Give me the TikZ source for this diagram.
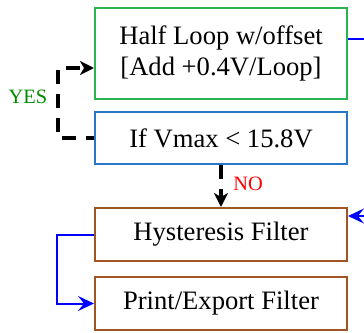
\documentclass[tikz,border=0pt]{standalone}
\usepackage{fontspec}
\setmainfont{Liberation Serif}
\usepackage{tikz}
\usetikzlibrary{arrows.meta,positioning}

\definecolor{boxgreen}{RGB}{40,180,80}
\definecolor{boxblue}{RGB}{40,120,200}
\definecolor{boxbrown}{RGB}{160,85,35}
\definecolor{yesgreen}{RGB}{0,140,0}

\tikzset{
  stage/.style={draw,line width=1pt,minimum width=126pt,inner sep=0pt,align=center,
    font=\fontsize{13.3}{15.5}\selectfont},
  decision/.style={dashed,line width=2pt,dash pattern=on 7pt off 5pt,
    -{Stealth[length=7pt,width=7pt,inset=2pt]}},
  flow/.style={blue,line width=1pt,-{Stealth[length=8pt,width=7.5pt,inset=3pt]}},
  tag/.style={font=\fontsize{10.2}{12}\selectfont}
}

\begin{document}
\begin{tikzpicture}[x=0.5pt,y=-0.5pt]
  \useasboundingbox (0,0) rectangle (364,332);

  \draw (221,53.5) node[stage,draw=boxgreen,minimum height=45.5pt] (halfloop) {Half Loop w/offset\\{[}Add +0.4V/Loop{]}};
  \draw (221,138) node[stage,draw=boxblue,minimum height=26pt] (ifvmax) {If Vmax < 15.8V};
  \draw (221,234.5) node[stage,draw=boxbrown,minimum height=26.5pt] (hyst) {Hysteresis Filter};
  \draw (221,303.5) node[stage,draw=boxbrown,minimum height=26.5pt] (export) {Print/Export Filter};

  \coordinate (yesturn) at (58,68);
  \coordinate (loopout) at (364,39);
  \coordinate (hystin) at (364,216);

  % yes / no branches
  \draw[decision,dash phase=3pt] (ifvmax.west) -| (yesturn) -- (yesturn -| halfloop.west);
  \draw (28,97) node[tag,text=yesgreen] (yes) {YES};
  \path[decision] (ifvmax.south) edge (hyst.north);
  \draw (248,184) node[tag,text=red] (no) {NO};

  % blue flow lines
  \draw[blue,line width=1pt] (loopout -| halfloop.east) -- (loopout);
  \path[flow] (hystin) edge (hystin -| hyst.east);
  \draw[flow] (hyst.west) -- ++(-37,0) |- (export.west);

\end{tikzpicture}
\end{document}
